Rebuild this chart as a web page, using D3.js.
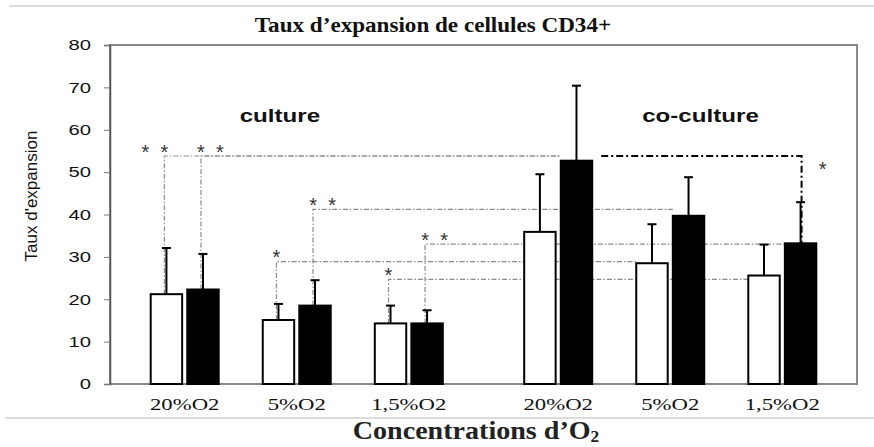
<!DOCTYPE html>
<html>
<head>
<meta charset="utf-8">
<script src="https://cdnjs.cloudflare.com/ajax/libs/d3/7.8.5/d3.min.js"></script>
<style>
  body { margin: 0; background: #fff; }
  svg { display: block; }
</style>
</head>
<body>
<script>
(function() {

    // ---- data ----
    var conditions = ["culture", "co-culture"];
    var oxygen = ["20%O2", "5%O2", "1,5%O2"];
    var series = ["blanc", "noir"];

    var cultureWhite = [21.2, 15.1, 14.3];
    var cultureBlack = [22.3, 18.5, 14.3];
    var cocultureWhite = [35.9, 28.5, 25.6];
    var cocultureBlack = [52.7, 39.7, 33.2];

    var cultureWhiteErr = [10.9, 3.8, 4.2];
    var cultureBlackErr = [8.4, 6.0, 3.1];
    var cocultureWhiteErr = [13.6, 9.2, 7.3];
    var cocultureBlackErr = [17.7, 9.1, 9.7];

    var yTicks = [0, 10, 20, 30, 40, 50, 60, 70, 80];

    // significance brackets: [condition, oxygen, series index]
    var sigLinks = [
        {from: ["culture", "20%O2", 0], to: ["co-culture", "20%O2", 1], level: 53.8, stars: 2},
        {from: ["culture", "20%O2", 1], to: ["co-culture", "20%O2", 1], level: 53.8, stars: 2},
        {from: ["culture", "5%O2", 1], to: ["co-culture", "5%O2", 1], level: 41.2, stars: 2},
        {from: ["culture", "5%O2", 0], to: ["co-culture", "5%O2", 0], level: 28.9, stars: 1},
        {from: ["culture", "1,5%O2", 1], to: ["co-culture", "1,5%O2", 1], level: 33.0, stars: 2},
        {from: ["culture", "1,5%O2", 0], to: ["co-culture", "1,5%O2", 0], level: 24.7, stars: 1}
    ];
    var sigBold = {from: ["co-culture", "20%O2", 1], to: ["co-culture", "1,5%O2", 1], level: 53.8, stars: 1};

    var vals = {"culture": [cultureWhite, cultureBlack], "co-culture": [cocultureWhite, cocultureBlack]};
    var errs = {"culture": [cultureWhiteErr, cultureBlackErr], "co-culture": [cocultureWhiteErr, cocultureBlackErr]};

    var rows = [];
    conditions.forEach(function(c) {
        oxygen.forEach(function(o, i) {
            series.forEach(function(s, k) {
                rows.push({cond: c, oxy: o, ser: k, value: vals[c][k][i], err: errs[c][k][i]});
            });
        });
    });

    var width = 874, height = 447;
    var svg = d3.select("body").append("svg").attr("width", width).attr("height", height);

    var y = d3.scaleLinear().domain([0, 80]).range([384, 45]);
    var xCond = d3.scaleBand().domain(conditions).range([110, 857]).paddingInner(0.1).paddingOuter(0.05);
    var xOxy = d3.scaleBand().domain(oxygen).range([0, xCond.bandwidth()]);
    var xSer = d3.scaleBand().domain([0, 1]).range([-34, 34]).paddingInner(0.14);

    function groupCenter(c, o) { return xCond(c) + xOxy(o) + xOxy.bandwidth() / 2; }
    function barX(c, o, s) { return groupCenter(c, o) + xSer(s); }
    function barMid(c, o, s) { return barX(c, o, s) + xSer.bandwidth() / 2; }
    function valueOf(ref) { return vals[ref[0]][ref[2]][oxygen.indexOf(ref[1])]; }

    // stretch text horizontally like the original picture
    function stretch(sel, k) {
        sel.each(function() {
            var w = this.getComputedTextLength();
            d3.select(this).attr("textLength", w * k).attr("lengthAdjust", "spacingAndGlyphs");
        });
    }

    function star(x, cy) {
        svg.append("text")
            .attr("x", x).attr("y", cy + 11.5)
            .attr("text-anchor", "middle")
            .attr("font-family", "Arial, 'Liberation Sans', sans-serif")
            .attr("font-size", 20)
            .attr("fill", "#333")
            .text("*");
    }

    // separator lines
    svg.append("line").attr("x1", 9).attr("x2", width).attr("y1", 6).attr("y2", 6)
        .attr("stroke", "#cfcfcf").attr("stroke-width", 1.5);
    svg.append("line").attr("x1", 5).attr("x2", width).attr("y1", 418).attr("y2", 418)
        .attr("stroke", "#cfcfcf").attr("stroke-width", 1.5);

    // plot frame
    svg.append("rect")
        .attr("x", 110).attr("y", y(80))
        .attr("width", 857 - 110).attr("height", y(0) - y(80))
        .attr("fill", "none").attr("stroke", "#888").attr("stroke-width", 2);

    // y axis
    var yAxis = svg.append("g")
        .attr("transform", "translate(110,0)")
        .call(d3.axisLeft(y).tickValues(yTicks).tickSize(6).tickPadding(13));
    yAxis.select(".domain").attr("stroke", "#555").attr("stroke-width", 1.5);
    yAxis.selectAll(".tick line").attr("stroke", "#777");
    yAxis.selectAll(".tick text")
        .attr("font-family", "Arial, 'Liberation Sans', sans-serif")
        .attr("font-size", 15)
        .attr("fill", "#111")
        .call(stretch, 1.35);

    svg.append("text")
        .attr("transform", "translate(37,196) rotate(-90)")
        .attr("text-anchor", "middle")
        .attr("font-family", "Arial, 'Liberation Sans', sans-serif")
        .attr("font-size", 17)
        .attr("fill", "#111")
        .text("Taux d'expansion");

    // significance lines (behind the bars)
    var ann = svg.append("g");
    sigLinks.forEach(function(d) {
        var vx = barMid(d.from[0], d.from[1], d.from[2]) - 2;
        var x2 = barX(d.to[0], d.to[1], d.to[2]);
        var ly = y(d.level);
        ann.append("path")
            .attr("d", "M" + vx + "," + y(valueOf(d.from)) + "V" + ly + "H" + x2)
            .attr("fill", "none")
            .attr("stroke", "#8a8a8a")
            .attr("stroke-width", 1.2)
            .attr("stroke-dasharray", "5,2,1.5,2");
    });

    // bars
    svg.append("g").selectAll("rect")
        .data(rows)
        .enter().append("rect")
        .attr("x", function(d) { return barX(d.cond, d.oxy, d.ser); })
        .attr("y", function(d) { return y(d.value); })
        .attr("width", xSer.bandwidth())
        .attr("height", function(d) { return y(0) - y(d.value); })
        .attr("fill", function(d) { return d.ser === 0 ? "#fff" : "#000"; })
        .attr("stroke", "#000")
        .attr("stroke-width", 2);

    // bold bracket inside co-culture
    (function(d) {
        var x1 = barX(d.from[0], d.from[1], d.from[2]) + xSer.bandwidth() + 9;
        var vx = barMid(d.to[0], d.to[1], d.to[2]) + 1;
        var ly = y(d.level);
        svg.append("path")
            .attr("d", "M" + x1 + "," + ly + "H" + vx + "V" + y(valueOf(d.to)))
            .attr("fill", "none")
            .attr("stroke", "#000")
            .attr("stroke-width", 2)
            .attr("stroke-dasharray", "7,3,2,3");
        star(vx + 21, ly + 8);
    })(sigBold);

    // error bars
    var eb = svg.append("g").attr("stroke", "#000").attr("stroke-width", 2);
    rows.forEach(function(d) {
        var cx = barMid(d.cond, d.oxy, d.ser);
        eb.append("line").attr("x1", cx).attr("x2", cx)
            .attr("y1", y(d.value)).attr("y2", y(d.value + d.err));
        eb.append("line").attr("x1", cx - 4.5).attr("x2", cx + 4.5)
            .attr("y1", y(d.value + d.err)).attr("y2", y(d.value + d.err));
    });

    // stars: when two brackets share a level, the first one's stars sit to the left
    sigLinks.forEach(function(d, i) {
        var vx = barMid(d.from[0], d.from[1], d.from[2]) - 2;
        var shared = sigLinks.some(function(e, j) { return j > i && e.level === d.level; });
        var cy = y(d.level) - 9;
        d3.range(d.stars).forEach(function(j) {
            var sx = shared ? vx - 19 * (d.stars - 1 - j) : vx + 19 * j;
            star(sx, cy);
        });
    });

    // condition labels
    var labelAnchor = {"culture": 0.45, "co-culture": 0.59};
    svg.append("g").selectAll("text")
        .data(conditions)
        .enter().append("text")
        .attr("x", function(c) { return xCond(c) + xCond.bandwidth() * labelAnchor[c]; })
        .attr("y", 121.5)
        .attr("text-anchor", "middle")
        .attr("font-family", "Arial, 'Liberation Sans', sans-serif")
        .attr("font-weight", "bold")
        .attr("font-size", 19)
        .attr("fill", "#111")
        .text(function(c) { return c; })
        .call(stretch, 1.27);

    // oxygen category labels
    var catRows = [];
    conditions.forEach(function(c) { oxygen.forEach(function(o) { catRows.push({cond: c, oxy: o}); }); });
    svg.append("g").selectAll("text")
        .data(catRows)
        .enter().append("text")
        .attr("x", function(d) { return groupCenter(d.cond, d.oxy); })
        .attr("y", 410)
        .attr("text-anchor", "middle")
        .attr("font-family", "'Liberation Serif', 'Times New Roman', serif")
        .attr("font-size", 17.5)
        .attr("fill", "#111")
        .text(function(d) { return d.oxy; })
        .call(stretch, 1.3);

    // title
    svg.append("text")
        .attr("x", 433).attr("y", 31.5)
        .attr("text-anchor", "middle")
        .attr("font-family", "'Liberation Serif', 'Times New Roman', serif")
        .attr("font-weight", "bold")
        .attr("font-size", 21)
        .attr("fill", "#111")
        .text("Taux d\u2019expansion de cellules CD34+")
        .call(stretch, 1.1);

    // x axis title
    var xt = svg.append("text")
        .attr("transform", "translate(476,439) scale(1.08,1)")
        .attr("text-anchor", "middle")
        .attr("font-family", "'Liberation Serif', 'Times New Roman', serif")
        .attr("font-weight", "bold")
        .attr("font-size", 26)
        .attr("fill", "#222");
    xt.append("tspan").text("Concentrations d\u2019O");
    xt.append("tspan").attr("font-size", 16).attr("dy", 3).text("2");

})();
</script>
</body>
</html>
